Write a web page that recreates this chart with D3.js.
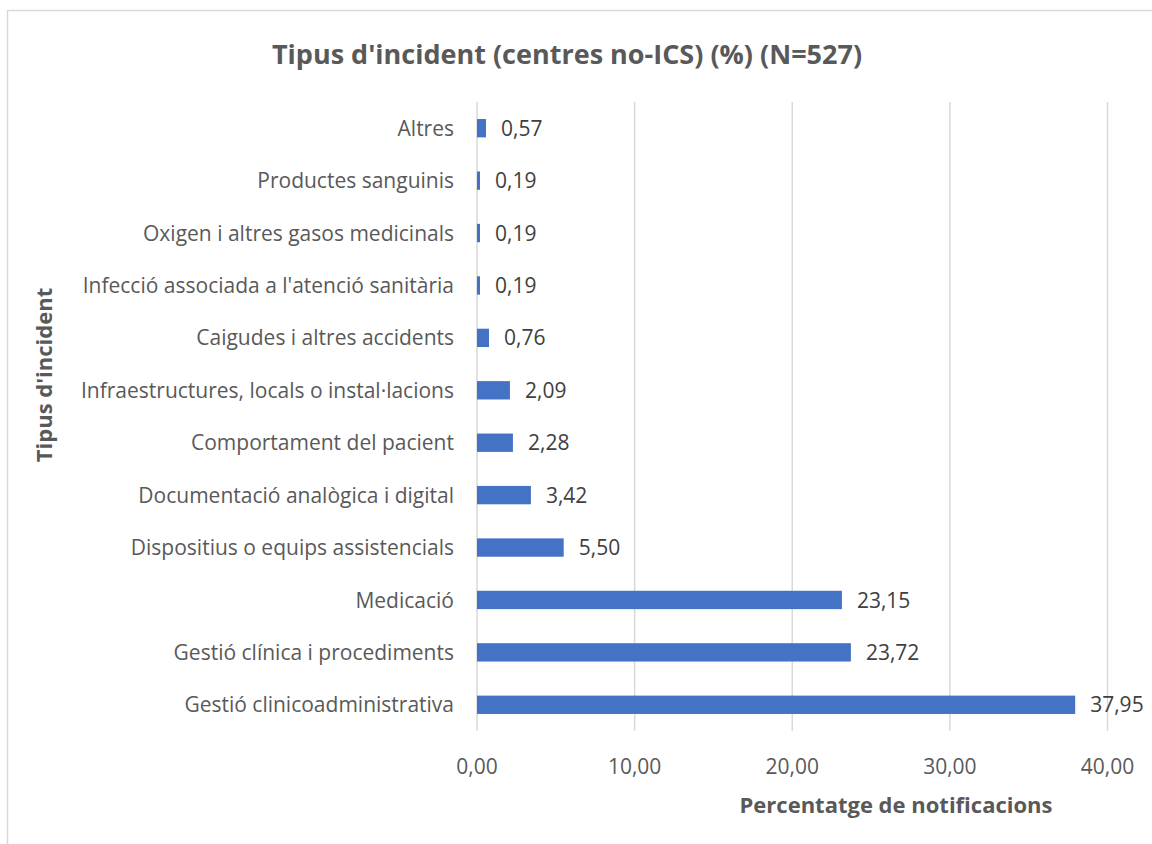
<!DOCTYPE html>
<html>
<head>
<meta charset="utf-8">
<script src="https://cdn.jsdelivr.net/npm/d3@7"></script>
<style>
  body { margin: 0; background: #fff; }
  svg { display: block; font-family: "Open Sans", Lato, sans-serif; }
</style>
</head>
<body>
<div id="chart"></div>
<script>
// data, top to bottom as in the chart
const categories = [
  "Altres",
  "Productes sanguinis",
  "Oxigen i altres gasos medicinals",
  "Infecció associada a l'atenció sanitària",
  "Caigudes i altres accidents",
  "Infraestructures, locals o instal·lacions",
  "Comportament del pacient",
  "Documentació analògica i digital",
  "Dispositius o equips assistencials",
  "Medicació",
  "Gestió clínica i procediments",
  "Gestió clinicoadministrativa"
];
const values = [0.57, 0.19, 0.19, 0.19, 0.76, 2.09, 2.28, 3.42, 5.50, 23.15, 23.72, 37.95];
const xTicks = [0, 10, 20, 30, 40];

const W = 1152, H = 844;
const margin = {top: 102, right: 45, bottom: 113, left: 477};

const fmt = v => v.toFixed(2).replace(".", ",");

const svg = d3.select("#chart").append("svg")
  .attr("width", W)
  .attr("height", H);

// chart frame (cut off at right/bottom like the original)
svg.append("rect")
  .attr("x", 7.5).attr("y", 10.5)
  .attr("width", W + 10).attr("height", H + 10)
  .attr("fill", "#fff")
  .attr("stroke", "#d9d9d9")
  .attr("stroke-width", 1.5);

const x = d3.scaleLinear()
  .domain([0, 40])
  .range([margin.left, 1107.5]);

const y = d3.scaleBand()
  .domain(categories)
  .range([margin.top, H - margin.bottom])
  .paddingInner(0.65)
  .paddingOuter(0.325);

// gridlines
svg.append("g")
  .selectAll("line")
  .data(xTicks)
  .join("line")
    .attr("x1", d => x(d)).attr("x2", d => x(d))
    .attr("y1", margin.top).attr("y2", H - margin.bottom)
    .attr("stroke", "#d9d9d9")
    .attr("stroke-width", 1.5);

// x tick labels
svg.append("g")
  .selectAll("text")
  .data(xTicks)
  .join("text")
    .attr("x", d => x(d))
    .attr("y", 774)
    .attr("text-anchor", "middle")
    .attr("fill", "#595959")
    .style("font-size", "21px")
    .text(d => fmt(d));

// bars
svg.append("g")
  .selectAll("rect")
  .data(values)
  .join("rect")
    .attr("x", x(0))
    .attr("y", (d, i) => y(categories[i]))
    .attr("width", d => x(d) - x(0))
    .attr("height", y.bandwidth())
    .attr("fill", "#4472c4");

// value labels
svg.append("g")
  .selectAll("text")
  .data(values)
  .join("text")
    .attr("x", d => x(d) + 15)
    .attr("y", (d, i) => y(categories[i]) + y.bandwidth() / 2)
    .attr("dy", "0.36em")
    .attr("fill", "#404040")
    .style("font-size", "21px")
    .text(d => fmt(d));

// category labels
svg.append("g")
  .selectAll("text")
  .data(categories)
  .join("text")
    .attr("x", margin.left - 23)
    .attr("y", d => y(d) + y.bandwidth() / 2)
    .attr("dy", "0.36em")
    .attr("text-anchor", "end")
    .attr("fill", "#595959")
    .style("font-size", "21px")
    .text(d => d);

// title
svg.append("text")
  .attr("x", 567)
  .attr("y", 64)
  .attr("text-anchor", "middle")
  .attr("fill", "#595959")
  .style("font-size", "27px")
  .style("font-weight", "bold")
  .text("Tipus d'incident (centres no-ICS) (%) (N=527)");

// axis titles
svg.append("text")
  .attr("x", 896)
  .attr("y", 813)
  .attr("text-anchor", "middle")
  .attr("fill", "#595959")
  .style("font-size", "22px")
  .style("font-weight", "bold")
  .text("Percentatge de notificacions");

svg.append("text")
  .attr("transform", "translate(52,375) rotate(-90)")
  .attr("text-anchor", "middle")
  .attr("fill", "#595959")
  .style("font-size", "22px")
  .style("font-weight", "bold")
  .text("Tipus d'incident");
</script>
</body>
</html>
